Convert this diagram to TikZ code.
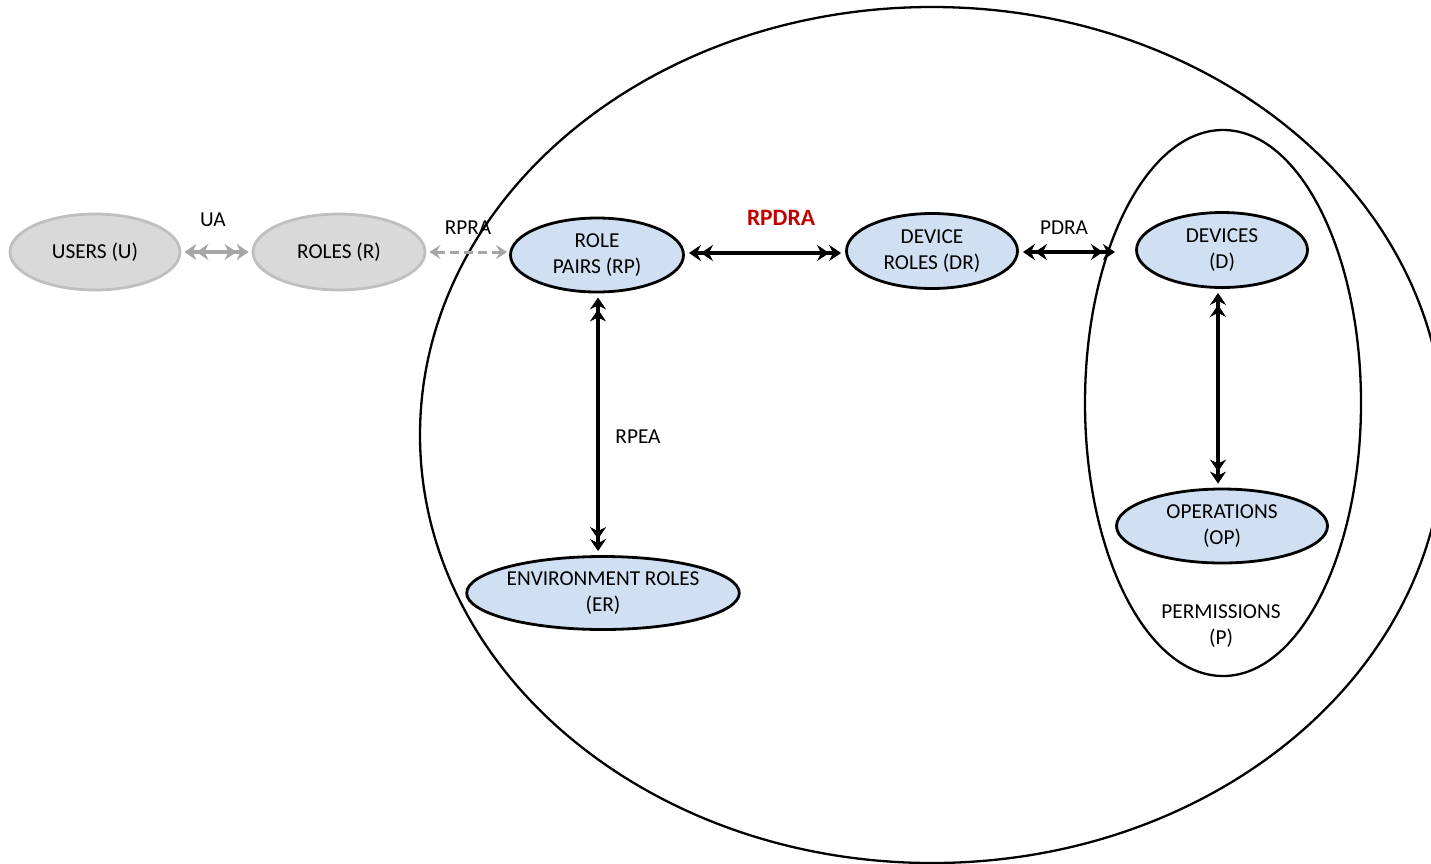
\documentclass[tikz,border=0pt]{standalone}
\usepackage{fontspec}
\setmainfont{Carlito}
\usetikzlibrary{shapes.geometric,arrows.meta}
\definecolor{nodeblue}{HTML}{D0E0F2}
\definecolor{greyfill}{HTML}{D9D9D9}
\definecolor{greyline}{HTML}{BFBFBF}
\definecolor{greyarrow}{HTML}{A6A6A6}
\definecolor{rpdrared}{HTML}{C00000}
\tikzset{
  txt/.style={font=\fontsize{21.3}{26}\selectfont, align=center},
  bluenode/.style={ellipse, draw=black, line width=2.8pt, fill=nodeblue, inner sep=0pt, txt},
  greynode/.style={ellipse, draw=greyline, line width=2.8pt, fill=greyfill, inner sep=0pt, txt},
  dblheads/.style={arrows={Stealth[length=12pt,width=16pt,inset=4pt]Stealth[length=12pt,width=16pt,inset=4pt]-Stealth[length=12pt,width=16pt,inset=4pt]Stealth[length=12pt,width=16pt,inset=4pt]}},
  sglheads/.style={arrows={Stealth[length=11pt,width=14pt,inset=4pt]-Stealth[length=11pt,width=14pt,inset=4pt]}},
  blackarrow/.style={line width=3.5pt, black, dblheads, shorten <=4pt, shorten >=4pt},
  greyarrowstyle/.style={line width=3.5pt, greyarrow, dblheads, shorten <=3pt, shorten >=3pt},
  dashedgrey/.style={line width=3pt, greyarrow, dash pattern=on 9pt off 5pt, sglheads, shorten <=3pt, shorten >=2pt},
  lbl/.style={txt},
  container/.style={ellipse, draw=black, line width=2.3pt, inner sep=0pt}
}
\begin{document}
\begin{tikzpicture}[x=1pt,y=-1pt]
\useasboundingbox (0,0) rectangle (1431,863);
% containers
\node[container, minimum width=1024pt, minimum height=856pt] (SYS) at (932,435) {};
\node[container, minimum width=276pt, minimum height=546pt] (P) at (1223,403) {};
\node[lbl] (Plbl) at (1221,626) {PERMISSIONS\\(P)};
% nodes
\node[greynode, minimum width=170pt, minimum height=76pt] (U) at (95,252) {USERS (U)};
\node[greynode, minimum width=172pt, minimum height=76pt] (R) at (339,252) {ROLES (R)};
\node[bluenode, minimum width=173pt, minimum height=74pt] (RP) at (597,255) {ROLE\\PAIRS (RP)};
\node[bluenode, minimum width=171pt, minimum height=75pt] (DR) at (932,251) {DEVICE\\ROLES (DR)};
\node[bluenode, minimum width=171pt, minimum height=75pt] (D) at (1222,250) {DEVICES\\(D)};
\node[bluenode, minimum width=211pt, minimum height=74pt] (OP) at (1222,526) {OPERATIONS\\(OP)};
\node[bluenode, minimum width=266pt, minimum height=73pt] (ER) at (603,593) {ENVIRONMENT ROLES\\(ER)};
\coordinate (PDend) at (1115,252);
% connectors
\draw[greyarrowstyle] (U) -- (R);
\draw[dashedgrey] (R.east) -- (RP.west |- R.east);
\draw[blackarrow] (RP.east |- 0,253) -- (DR.west |- 0,253);
\draw[blackarrow, shorten >=0pt] (DR.east |- PDend) -- (PDend);
\draw[blackarrow] (RP.south -| 598,0) -- (ER.north -| 598,0);
\draw[blackarrow] (D.south -| 1218,0) -- (OP.north -| 1218,0);
% labels
\node[lbl] (UA) at (213,220) {UA};
\node[lbl] (RPRA) at (468,228) {RPRA};
\node[font=\fontsize{23.5}{27}\selectfont\bfseries, text=rpdrared] (RPDRA) at (781,218) {RPDRA};
\node[lbl] (PDRA) at (1064,228) {PDRA};
\node[lbl] (RPEA) at (638,437) {RPEA};
\end{tikzpicture}
\end{document}
